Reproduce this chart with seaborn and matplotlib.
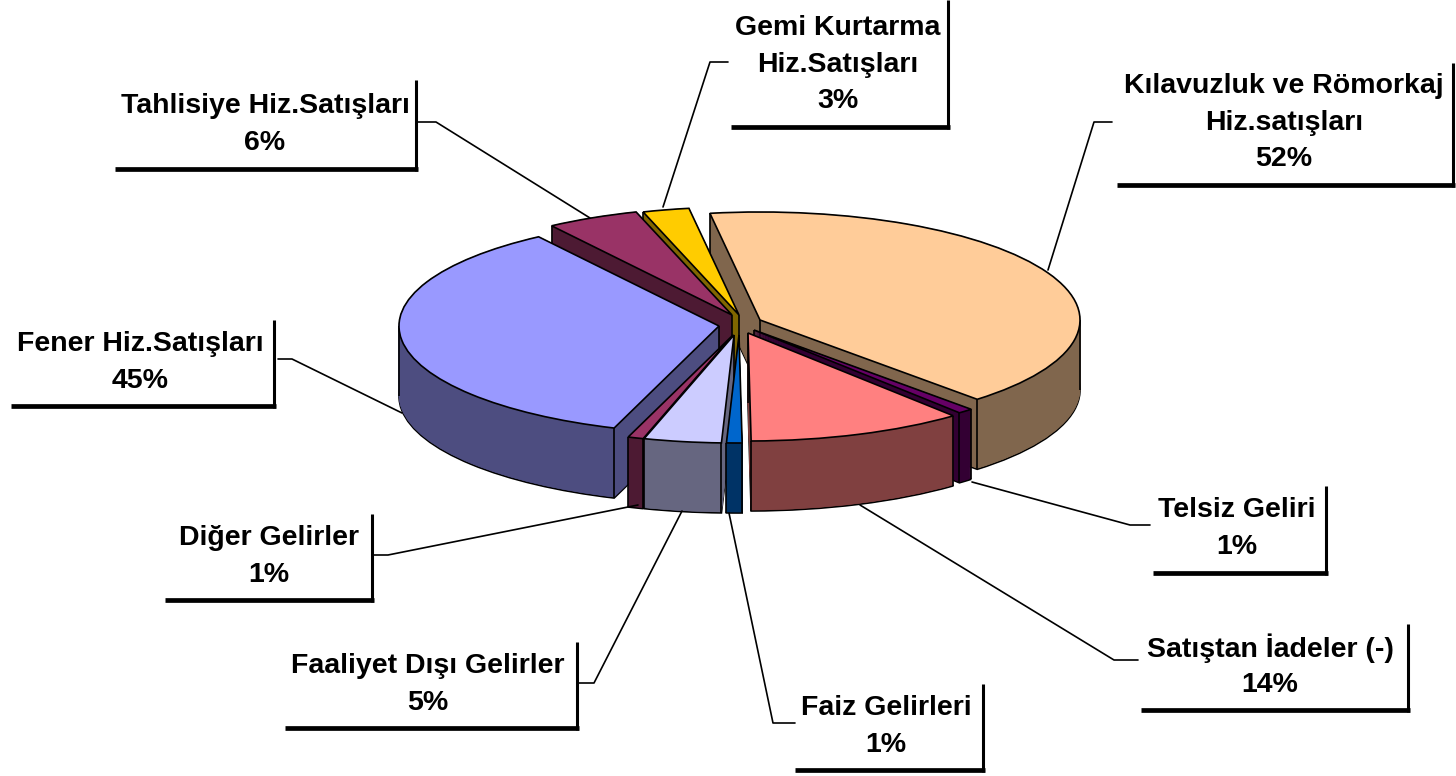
import numpy as np
import matplotlib
matplotlib.use('Agg')
import matplotlib.pyplot as plt
import seaborn as sns

# slices clockwise from the top of the pie
labels = ['Kılavuzluk ve Römorkaj\nHiz.satışları', 'Telsiz Geliri', 'Satıştan İadeler (-)',
          'Faiz Gelirleri', 'Faaliyet Dışı Gelirler', 'Diğer Gelirler',
          'Fener Hiz.Satışları', 'Tahlisiye Hiz.Satışları', 'Gemi Kurtarma\nHiz.Satışları']
percents = [52, 1, 14, 1, 5, 1, 45, 6, 3]
top_colors = ['#FFCC99', '#660066', '#FF8080', '#0066CC', '#CCCCFF', '#993366',
              '#9999FF', '#993366', '#FFCC00']
# how far each slice is pulled out, in pixels (x, y up)
slice_shift = [(24, 5), (18, -5), (12, -8), (3, -10), (-2, -10), (-3, -10), (-17, -1), (-4, 10), (3, 10)]
# back to front painting order
paint_order = [0, 8, 7, 6, 1, 5, 4, 3, 2]

# label layout in pixels: text centre x, first line y, box left, box right, box top, box bottom
boxes = [(1284, 86, 1117, 1453, 63, 185), (1237, 510, 1153, 1326, 486, 573),
         (1270, 648, 1141, 1408, 624, 710), (886, 708, 795, 983, 684, 770),
         (428, 666, 285, 577, 642, 728), (269, 538, 165, 372, 514, 600),
         (140, 344, 11, 274, 320, 406), (265, 106, 115, 416, 80, 169),
         (838, 28, 731, 948, 0, 127)]
leaders = [[(1112, 122), (1094, 122), (1048, 270)], [(1150, 525), (1130, 525), (972, 482)],
           [(1138, 660), (1114, 660), (860, 505)], [(795, 723), (773, 723), (729, 513)],
           [(577, 683), (594, 683), (682, 511)], [(373, 555), (388, 555), (638, 505)],
           [(278, 359), (292, 359), (402, 413)], [(418, 122), (436, 122), (590, 218)],
           [(728, 62), (710, 62), (663, 207)]]

W, H = 1456, 776
cx, cy = 736, 325
rx, ry = 320, 108
depth = 70
start = 99

sns.set_theme(style='white')
plt.rcParams['font.family'] = ['Liberation Sans', 'DejaVu Sans']

fig = plt.figure(figsize=(W / 100, H / 100), dpi=100, facecolor='white')
ax = fig.add_axes([0, 0, 1, 1])

top_pal = sns.color_palette(top_colors)
side_pal = [tuple(c * 0.5 for c in col) for col in top_pal]
rank = {s: i for i, s in enumerate(paint_order)}
shifts = [(sx / rx, sy / ry) for sx, sy in slice_shift]

# stack of pies from the bottom up gives the thickness
for k in range(depth + 1):
    offs = -(depth - k) / ry
    wedges, _ = ax.pie(percents, colors=side_pal, startangle=start, counterclock=False,
                       center=(0, offs), radius=1)
    for i, w in enumerate(wedges):
        w.set_center((shifts[i][0], shifts[i][1] + offs))
        w.set_zorder(rank[i] * 200 + 1 + k)
        if k == 0:
            w.set_edgecolor('black')
            w.set_linewidth(1.2)
        else:
            w.set_edgecolor(side_pal[i])
            w.set_linewidth(0.4)

tops, _ = ax.pie(percents, colors=top_pal, startangle=start, counterclock=False,
                 center=(0, 0), radius=1,
                 wedgeprops=dict(edgecolor='black', linewidth=1.2))

dy = depth / ry
for i, w in enumerate(tops):
    w.set_center(shifts[i])
    z = rank[i] * 200
    w.set_zorder(z + 150)
    x0, y0 = shifts[i]
    t1, t2 = w.theta1, w.theta2
    # vertical edges of the walls, only corners that touch a wall facing the viewer
    angs = []
    if np.sin(np.radians(t1)) < 0 or np.sin(np.radians(t1 - 90)) < 0:
        angs.append(t1)
    if np.sin(np.radians(t2)) < 0 or np.sin(np.radians(t2 + 90)) < 0:
        angs.append(t2)
    for extra in (0, 180, 360, -180):
        if t1 < extra < t2:
            angs.append(extra)
    xs = [x0] + [x0 + np.cos(np.radians(a)) for a in angs]
    ys = [y0] + [y0 + np.sin(np.radians(a)) for a in angs]
    for x, y in zip(xs, ys):
        ax.plot([x, x], [y, y - dy], color='black', lw=1.2, zorder=z + 120, solid_capstyle='butt')

ax.set_aspect('auto')
ax.set_xlim((0 - cx) / rx, (W - cx) / rx)
ax.set_ylim((cy - H) / ry, cy / ry)
ax.axis('off')

# labels drawn in pixel coordinates on top
ov = fig.add_axes([0, 0, 1, 1])
ov.set_xlim(0, W)
ov.set_ylim(H, 0)
ov.axis('off')
ov.patch.set_alpha(0)

for name, pct, b, lead in zip(labels, percents, boxes, leaders):
    tx, ty, left, right, top, bottom = b
    lines = name.split('\n') + ['%d%%' % pct]
    for j, line in enumerate(lines):
        ov.text(tx, ty + j * 36.5, line, ha='center', va='center', fontsize=20.5,
                fontweight='bold', color='black')
    ov.plot([left, right + 2], [bottom, bottom], color='black', lw=3.4, solid_capstyle='butt')
    ov.plot([right, right], [top, bottom + 2], color='black', lw=2.2, solid_capstyle='butt')
    ov.plot([p[0] for p in lead], [p[1] for p in lead], color='black', lw=1.2)

fig.savefig('out.png', dpi=100)
